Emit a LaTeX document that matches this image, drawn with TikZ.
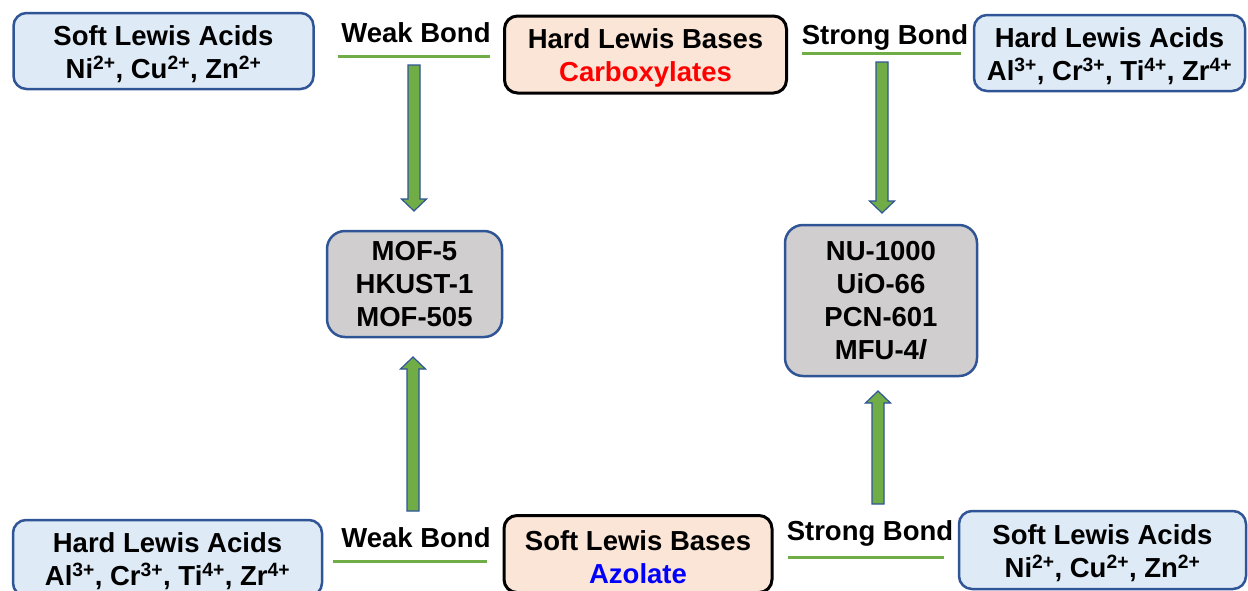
\documentclass[tikz,border=0pt]{standalone}
\usepackage{fontspec}
\setmainfont{Liberation Sans}
\usetikzlibrary{calc}

\definecolor{acidFill}{HTML}{DEEBF7}
\definecolor{acidLine}{HTML}{2F5597}
\definecolor{baseFill}{HTML}{FBE5D6}
\definecolor{mofFill}{HTML}{D0CECE}
\definecolor{bondGreen}{HTML}{70AD47}

\begin{document}
\begin{tikzpicture}
[x=1pt,y=-1pt,%
  acidDecorate/.style={draw=acidLine,fill=acidFill,line width=2.5pt,rounded corners=13pt,align=center,inner sep=0pt,text height=59pt},%
  baseDecorate/.style={draw=black,fill=baseFill,line width=3pt,rounded corners=13pt,align=center,inner sep=0pt,text height=59pt},%
  mofDecorate/.style={draw=acidLine,fill=mofFill,line width=2.5pt,rounded corners=18pt,align=center,inner sep=0pt},%
  lineDecorate/.style={-,draw=bondGreen,line width=3pt},%
  arrowDecorate/.style={draw=acidLine,fill=bondGreen,line width=1.2pt}]
\fontsize{27.5}{33}\selectfont\bfseries
\useasboundingbox (0,0) rectangle (1248,590);
\clip (0,0) rectangle (1248,590);
%% acid and base boxes
\node[acidDecorate,minimum width=300pt,minimum height=76pt] (softAcidTop) at (163.5,51)
  {Soft Lewis Acids\\Ni\textsuperscript{2+}, Cu\textsuperscript{2+}, Zn\textsuperscript{2+}};
\node[baseDecorate,minimum width=282pt,minimum height=77pt] (hardBase) at (645.5,54.5)
  {Hard Lewis Bases\\\textcolor{red}{Carboxylates}};
\node[acidDecorate,minimum width=271pt,minimum height=76pt] (hardAcidTop) at (1109.5,53)
  {Hard Lewis Acids\\Al\textsuperscript{3+}, Cr\textsuperscript{3+}, Ti\textsuperscript{4+}, Zr\textsuperscript{4+}};
\node[acidDecorate,minimum width=309pt,minimum height=76pt] (hardAcidBot) at (167.5,558)
  {Hard Lewis Acids\\Al\textsuperscript{3+}, Cr\textsuperscript{3+}, Ti\textsuperscript{4+}, Zr\textsuperscript{4+}};
\node[baseDecorate,minimum width=268pt,minimum height=77pt] (softBase) at (638,554)
  {Soft Lewis Bases\\\textcolor{blue}{Azolate}};
\node[acidDecorate,minimum width=287pt,minimum height=78pt] (softAcidBot) at (1102.5,550)
  {Soft Lewis Acids\\Ni\textsuperscript{2+}, Cu\textsuperscript{2+}, Zn\textsuperscript{2+}};
%% MOF boxes
\node[mofDecorate,minimum width=175pt,minimum height=106pt] (mofWeak) at (414.5,284)
  {MOF-5\\HKUST-1\\MOF-505};
\node[mofDecorate,minimum width=192pt,minimum height=151pt] (mofStrong) at (881,300.5)
  {NU-1000\\UiO-66\\PCN-601\\MFU-4\textit{l}};
%% bond labels
\node[anchor=base] (weakTop) at (416,42) {Weak Bond};
\node[anchor=base] (strongTop) at (885,44) {Strong Bond};
\node[anchor=base] (weakBot) at (416,547) {Weak Bond};
\node[anchor=base] (strongBot) at (870,540) {Strong Bond};
%% green bars under the labels
\foreach \lname/\xa/\xb/\y in {
  barA/338/490/56, barB/802/961/53,
  barC/333/487/561, barD/788/944/557}
{
  \coordinate (\lname-l) at (\xa,\y);
  \coordinate (\lname-r) at (\xb,\y);
  \draw[lineDecorate] (\lname-l) -- (\lname-r);
}
%% block arrows
\foreach \aname/\x/\ya/\yb in {
  downL/414/65/211, downR/882/62/213,
  upL/413/511/357, upR/878/504/391}
{
  \coordinate (\aname-tail) at (\x,\ya);
  \coordinate (\aname-tip) at (\x,\yb);
  \draw[arrowDecorate] ($(\aname-tail)+(-6,0)$)
    -- ($(\aname-tip)!12pt!(\aname-tail)+(-6,0)$)
    -- ($(\aname-tip)!12pt!(\aname-tail)+(-12.5,0)$)
    -- (\aname-tip)
    -- ($(\aname-tip)!12pt!(\aname-tail)+(12.5,0)$)
    -- ($(\aname-tip)!12pt!(\aname-tail)+(6,0)$)
    -- ($(\aname-tail)+(6,0)$) -- cycle;
}
\end{tikzpicture}
\end{document}
